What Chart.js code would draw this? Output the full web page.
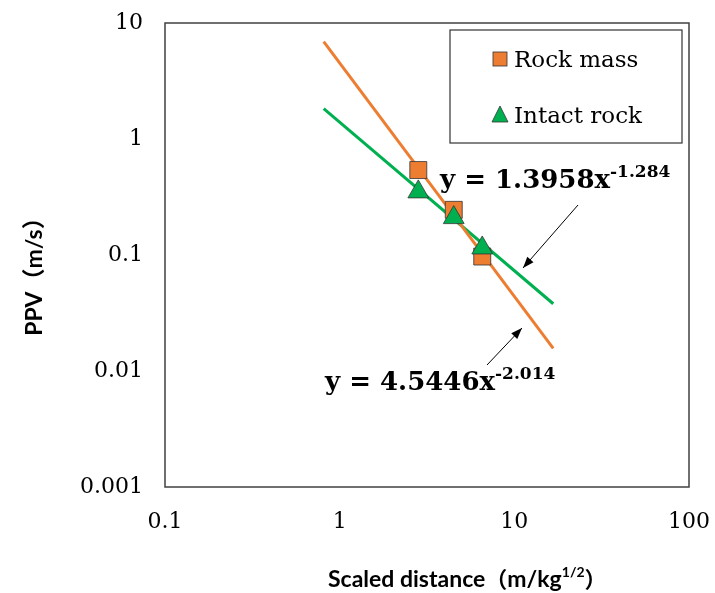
<!DOCTYPE html>
<html>
<head>
<meta charset="utf-8">
<script src="https://cdn.jsdelivr.net/npm/chart.js@4.4.0/dist/chart.umd.min.js"></script>
<style>
  html, body { margin: 0; padding: 0; background: #fff; }
  #wrap { width: 715px; height: 593px; }
</style>
</head>
<body>
<div id="wrap"><canvas id="myChart" width="715" height="593"></canvas></div>
<script>
// data
const scaledDistance = [2.82, 4.5, 6.55];
const rockMass = [0.54, 0.245, 0.097];
const intactRock = [0.35, 0.21, 0.115];

// trend lines (excel power fits), end points
const trendX = [0.81, 16.7];
const rockMassTrend = [6.9, 0.0157];
const intactRockTrend = [1.83, 0.038];

const xTicks = [0.1, 1, 10, 100];
const yTicks = [0.001, 0.01, 0.1, 1, 10];

const orange = '#ED7D31';
const green = '#00B050';
const serif = '"DejaVu Serif", serif';

function pts(xs, ys) {
    return xs.map((x, i) => ({ x: x, y: ys[i] }));
}

// no extra padding for overflowing tick labels
function noPad(s) {
    s.paddingLeft = 0;
    s.paddingRight = 0;
    s.paddingTop = 0;
    s.paddingBottom = 0;
}

// titles, box, legend and equations
const extras = {
    id: 'extras',
    afterDraw(chart) {
        const ctx = chart.ctx;
        const a = chart.chartArea;
        ctx.save();

        // frame
        ctx.strokeStyle = '#404040';
        ctx.lineWidth = 1.5;
        ctx.strokeRect(a.left, a.top, a.right - a.left, a.bottom - a.top);

        // legend
        ctx.lineWidth = 1.2;
        ctx.strokeStyle = '#333';
        ctx.strokeRect(450, 30, 232, 113);
        ctx.fillStyle = orange;
        ctx.fillRect(493, 52, 14, 14);
        ctx.lineWidth = 0.8;
        ctx.strokeRect(493, 52, 14, 14);
        ctx.beginPath();
        ctx.moveTo(500, 106);
        ctx.lineTo(508, 122);
        ctx.lineTo(492, 122);
        ctx.closePath();
        ctx.fillStyle = green;
        ctx.fill();
        ctx.stroke();
        ctx.fillStyle = '#000';
        ctx.font = '23px ' + serif;
        ctx.textBaseline = 'alphabetic';
        ctx.fillText('Rock mass', 514, 67);
        ctx.fillText('Intact rock', 514, 123);

        // equations
        function eq(main, sup, x, y) {
            ctx.font = 'bold 26px ' + serif;
            ctx.fillText(main, x, y);
            const w = ctx.measureText(main).width;
            ctx.font = 'bold 17px ' + serif;
            ctx.fillText(sup, x + w, y - 11);
        }
        eq('y = 1.3958x', '-1.284', 440, 188);
        eq('y = 4.5446x', '-2.014', 325, 390);

        // arrows
        function arrow(x1, y1, x2, y2) {
            ctx.strokeStyle = '#000';
            ctx.lineWidth = 1;
            ctx.beginPath();
            ctx.moveTo(x1, y1);
            ctx.lineTo(x2, y2);
            ctx.stroke();
            const ang = Math.atan2(y2 - y1, x2 - x1);
            ctx.beginPath();
            ctx.moveTo(x2, y2);
            ctx.lineTo(x2 - 12 * Math.cos(ang - 0.35), y2 - 12 * Math.sin(ang - 0.35));
            ctx.lineTo(x2 - 12 * Math.cos(ang + 0.35), y2 - 12 * Math.sin(ang + 0.35));
            ctx.closePath();
            ctx.fillStyle = '#000';
            ctx.fill();
        }
        arrow(578, 205, 523, 268);
        arrow(487, 365, 522, 328);

        // axis titles
        ctx.fillStyle = '#000';
        const sans = 'bold 23px Lato, sans-serif';
        const cjk = 'bold 22px "Noto Sans CJK JP", sans-serif';
        const parts = [
            ['Scaled distance', sans, 0],
            ['（', cjk, 0],
            ['m/kg', sans, 0],
            ['1/2', 'bold 14px Lato, sans-serif', -10],
            ['）', cjk, 0]
        ];
        let x = 328;
        const yb = 587;
        parts.forEach(p => {
            ctx.font = p[1];
            ctx.fillText(p[0], x, yb + p[2]);
            x += ctx.measureText(p[0]).width;
        });

        ctx.translate(42, 271);
        ctx.rotate(-Math.PI / 2);
        ctx.textAlign = 'center';
        ctx.font = 'bold 23px Lato, "Noto Sans CJK JP", sans-serif';
        ctx.fillText('PPV（m/s）', 0, 0);

        ctx.restore();
    }
};

const ctx = document.getElementById('myChart').getContext('2d');
const myChart = new Chart(ctx, {
    type: 'scatter',
    data: {
        datasets: [{
            label: 'Rock mass trend',
            data: pts(trendX, rockMassTrend),
            showLine: true,
            borderColor: orange,
            borderWidth: 3,
            pointRadius: 0,
            order: 3
        }, {
            label: 'Intact rock trend',
            data: pts(trendX, intactRockTrend),
            showLine: true,
            borderColor: green,
            borderWidth: 3,
            pointRadius: 0,
            order: 3
        }, {
            label: 'Rock mass',
            data: pts(scaledDistance, rockMass),
            pointStyle: 'rect',
            pointRadius: 12,
            backgroundColor: orange,
            borderColor: '#333',
            borderWidth: 0.8,
            order: 2
        }, {
            label: 'Intact rock',
            data: pts(scaledDistance, intactRock),
            pointStyle: 'triangle',
            pointRadius: 12,
            backgroundColor: green,
            borderColor: '#333',
            borderWidth: 0.8,
            order: 1
        }]
    },
    options: {
        responsive: false,
        animation: false,
        layout: {
            padding: { left: 0, right: 26, top: 23, bottom: 0 }
        },
        scales: {
            x: {
                type: 'logarithmic',
                min: 0.1,
                max: 100,
                afterBuildTicks: (s) => { s.ticks = xTicks.map(v => ({ value: v })); },
                afterFit: (s) => { s.height = 106; noPad(s); },
                grid: { display: false, drawTicks: false },
                border: { display: false },
                ticks: {
                    padding: 22,
                    color: '#000',
                    maxRotation: 0,
                    font: { family: serif, size: 22 },
                    callback: (v) => String(v)
                }
            },
            y: {
                type: 'logarithmic',
                min: 0.001,
                max: 10,
                afterBuildTicks: (s) => { s.ticks = yTicks.map(v => ({ value: v })); },
                afterFit: (s) => { s.width = 165; noPad(s); },
                grid: { display: false, drawTicks: false },
                border: { display: false },
                ticks: {
                    padding: 22,
                    color: '#000',
                    font: { family: serif, size: 22 },
                    callback: (v) => String(v)
                }
            }
        },
        plugins: {
            legend: { display: false },
            tooltip: { enabled: false }
        }
    },
    plugins: [extras]
});
</script>
</body>
</html>
